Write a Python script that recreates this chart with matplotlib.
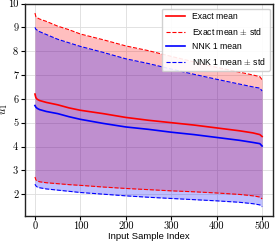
import matplotlib
matplotlib.use("Agg")
import matplotlib.pyplot as plt

plt.rcParams['mathtext.fontset'] = 'cm'

# sample positions along the sorted input index
idx = [0, 2, 5, 10, 25, 50, 75, 100, 150, 200, 250, 300, 350, 400, 450, 480, 495, 500]

exact_mean = [6.2, 6.05, 5.98, 5.93, 5.85, 5.75, 5.62, 5.52, 5.38, 5.22, 5.1, 5.0, 4.9, 4.78, 4.66, 4.57, 4.5, 4.42]
exact_hi = [9.6, 9.45, 9.4, 9.35, 9.25, 9.05, 8.9, 8.72, 8.48, 8.22, 8.02, 7.78, 7.55, 7.32, 7.12, 7.0, 6.93, 6.8]
exact_lo = [2.72, 2.6, 2.55, 2.52, 2.48, 2.44, 2.4, 2.37, 2.3, 2.24, 2.19, 2.14, 2.1, 2.05, 1.99, 1.93, 1.88, 1.8]

nnk_mean = [5.72, 5.65, 5.6, 5.55, 5.47, 5.38, 5.25, 5.14, 4.97, 4.82, 4.72, 4.6, 4.5, 4.38, 4.26, 4.17, 4.12, 4.02]
nnk_hi = [9.0, 8.92, 8.88, 8.82, 8.7, 8.5, 8.35, 8.2, 7.95, 7.68, 7.48, 7.25, 7.03, 6.82, 6.62, 6.5, 6.45, 6.33]
nnk_lo = [2.42, 2.35, 2.3, 2.27, 2.22, 2.17, 2.12, 2.07, 2.0, 1.93, 1.87, 1.82, 1.77, 1.72, 1.66, 1.6, 1.55, 1.47]

xticks = [0, 100, 200, 300, 400, 500]
yticks = [2, 3, 4, 5, 6, 7, 8, 9, 10]

fig, ax = plt.subplots(figsize=(2.77, 2.42), dpi=100)

ax.fill_between(idx, exact_lo, exact_hi, color='red', alpha=0.25, linewidth=0)
ax.fill_between(idx, nnk_lo, nnk_hi, color='blue', alpha=0.25, linewidth=0)

ax.plot(idx, exact_mean, color='red', lw=1.2, label='Exact mean')
ax.plot(idx, exact_hi, color='red', lw=0.8, ls='--', label=r'Exact mean $\pm$ std')
ax.plot(idx, exact_lo, color='red', lw=0.8, ls='--')
ax.plot(idx, nnk_mean, color='blue', lw=1.2, label='NNK 1 mean')
ax.plot(idx, nnk_hi, color='blue', lw=0.8, ls='--', label=r'NNK 1 mean $\pm$ std')
ax.plot(idx, nnk_lo, color='blue', lw=0.8, ls='--')

ax.set_xlim(-23, 524)
ax.set_ylim(1.1, 10)
ax.set_xticks(xticks)
ax.set_yticks(yticks)
ax.set_xticklabels([str(v) for v in xticks], fontfamily='cmr10')
ax.set_yticklabels([str(v) for v in yticks], fontfamily='cmr10')
ax.tick_params(labelsize=7.5, length=3, width=0.8, pad=1.5)
ax.grid(True, color='#dddddd', linewidth=0.6)
ax.set_axisbelow(True)
for s in ax.spines.values():
    s.set_linewidth(1.0)
    s.set_color('#222222')

ax.set_xlabel('Input Sample Index', fontsize=6.8, family='Liberation Sans')
ax.xaxis.set_label_coords(0.5, -0.077)
ax.set_ylabel(r'$u_1$', fontsize=8)
ax.yaxis.set_label_coords(-0.058, 0.5)
ax.legend(loc='upper right', bbox_to_anchor=(0.988, 0.976), borderaxespad=0,
          prop={'family': 'Liberation Sans', 'size': 6.2},
          framealpha=0.9, handlelength=2.2, handletextpad=0.9,
          borderpad=0.45, labelspacing=0.55, fancybox=True)

fig.subplots_adjust(left=0.0885, right=0.9856, top=0.9855, bottom=0.109)
fig.savefig('out.png', dpi=100)
